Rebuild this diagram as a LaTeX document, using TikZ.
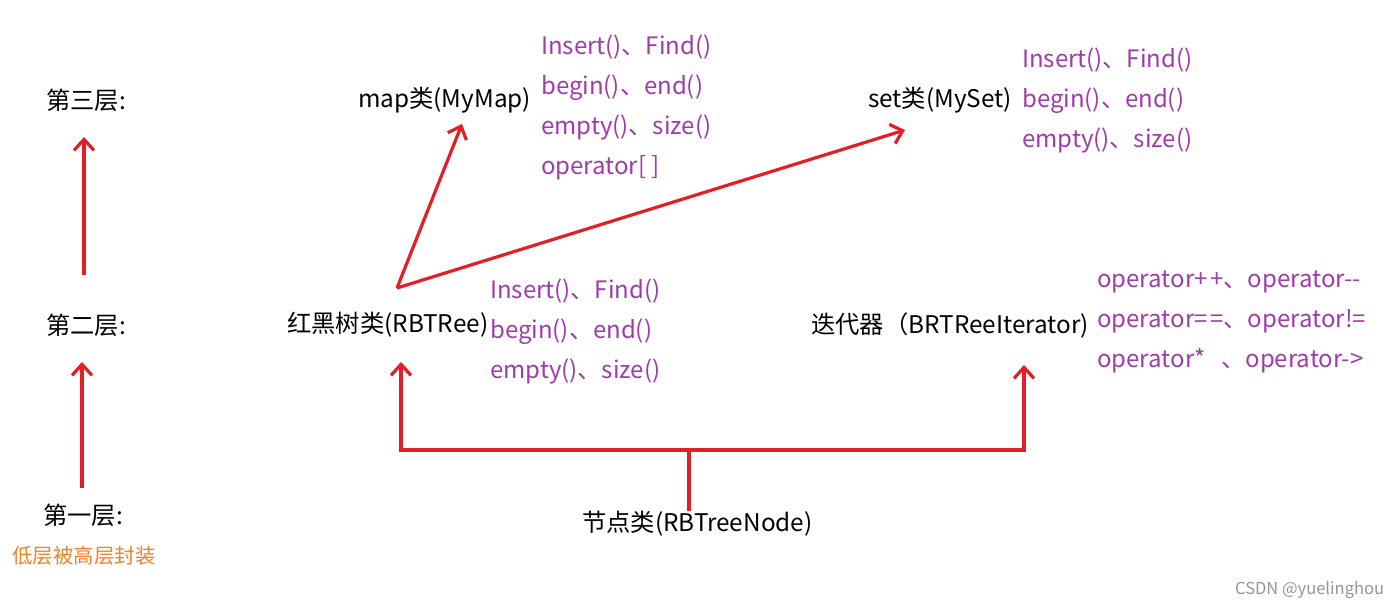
\documentclass[tikz,border=0pt]{standalone}
\usepackage{fontspec}
\setmainfont{Noto Sans CJK SC}
\usetikzlibrary{arrows.meta}
\definecolor{myred}{RGB}{228,30,38}
\definecolor{mypurple}{RGB}{160,60,170}
\definecolor{myorange}{RGB}{240,130,40}
\definecolor{mygray}{RGB}{150,150,150}
\tikzset{
  lbl/.style={inner sep=0pt, anchor=west, font=\fontsize{24.3}{28}\selectfont, text=black},
  meth/.style={inner sep=0pt, anchor=north west, align=left, text=mypurple, font=\fontsize{24}{40}\selectfont},
  conn/.style={draw=myred, line width=3.2pt},
  arr/.style={conn, -{Straight Barb[length=11pt,width=20pt,line width=3.2pt]}},
}
\begin{document}
\begin{tikzpicture}[x=1pt,y=-1pt]
\useasboundingbox[fill=white] (0,0) rectangle (1400,609);
% layer labels
\node[lbl] (l3) at (46,100) {第三层:};
\node[lbl] (l2) at (46,325) {第二层:};
\node[lbl] (l1) at (43,515) {第一层:};
\node[inner sep=0pt, anchor=west, text=myorange, font=\fontsize{20.5}{24}\selectfont] (note) at (12,556) {低层被高层封装};
\coordinate (a2s) at (84,275); \coordinate (a2e) at (84,137);
\coordinate (a1s) at (82,488); \coordinate (a1e) at (82,362);
\draw[arr] (a2s) -- (a2e);
\draw[arr] (a1s) -- (a1e);
% third layer
\node[lbl] (map) at (358,100) {map类(MyMap)};
\node[meth] (mapm) at (541,35) {Insert()、Find()\\begin()、end()\\empty()、size()\\operator[ ]};
\node[lbl] (set) at (868,100) {set类(MySet)};
\node[meth] (setm) at (1022,48) {Insert()、Find()\\begin()、end()\\empty()、size()};
% second layer
\node[lbl] (rbt) at (287,325) {红黑树类(RBTRee)};
\node[meth] (rbtm) at (490,279) {Insert()、Find()\\begin()、end()\\empty()、size()};
\node[lbl] (iter) at (811,325) {迭代器（BRTReeIterator)};
\node[meth] (iterm) at (1097,271) {operator+\kern3pt+、operator-{}-\\operator=\kern3pt=、operator!=\\operator*\hspace{16pt}、operator->};
% first layer
\node[lbl] (node) at (582,524) {节点类(RBTreeNode)};
% connectors
\coordinate (src) at (397,288);
\coordinate (mapt) at (462,124);
\coordinate (sett) at (905,130);
\draw[arr] (src) -- (mapt);
\draw[arr] (src) -- (sett);
\coordinate (j) at (689,450);
\coordinate (rbtt) at (401,362);
\coordinate (itert) at (1024,365);
\draw[conn] (node.north -| j) -- (j);
\draw[arr] (j) -| (rbtt);
\draw[arr] (j) -| (itert);
% watermark
\node[inner sep=0pt, anchor=west, text=mygray, font=\fontsize{16.5}{20}\selectfont] (wm) at (1235,590) {CSDN @yuelinghou};
\end{tikzpicture}
\end{document}
